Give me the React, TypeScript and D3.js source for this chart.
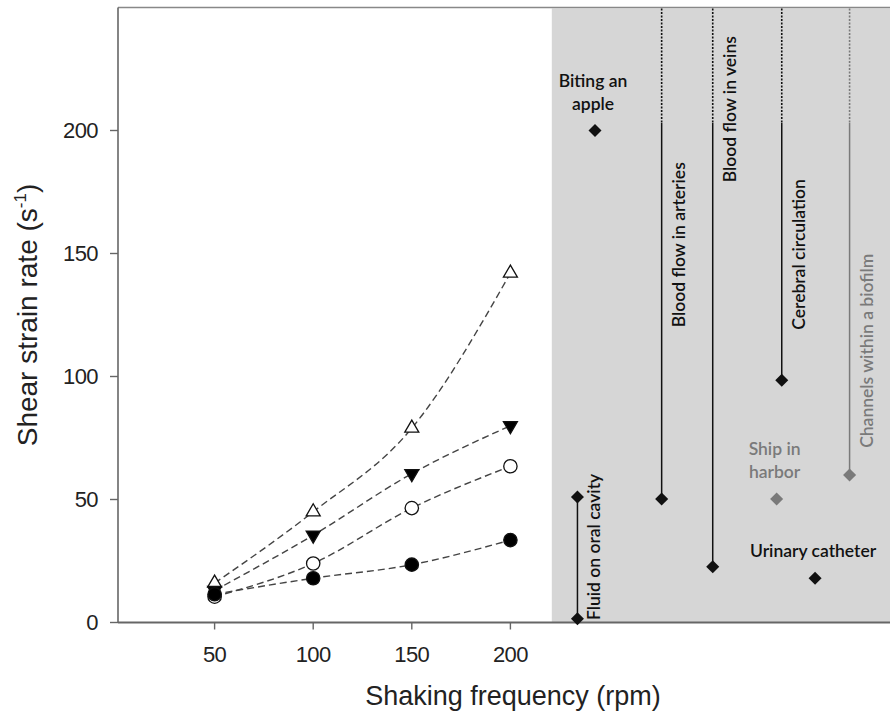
import React from "react";
import * as d3 from "d3";

// ---- Data ----
const frequencies = [50, 100, 150, 200];
const openTriangle = [16, 45, 79, 142];
const filledInvTriangle = [13, 35.5, 60.5, 80];
const openCircle = [10.5, 24, 46.5, 63.5];
const filledCircle = [11.5, 18, 23.5, 33.5];

const xTicks = [50, 100, 150, 200];
const yTicks = [0, 50, 100, 150, 200];

const rangeNames = [
  "Fluid on oral cavity",
  "Blood flow in arteries",
  "Blood flow in veins",
  "Cerebral circulation",
  "Channels within a biofilm",
];
const rangeX = [234, 276.7, 302.6, 337.6, 372];
const rangeLow = [1.5, 50.2, 22.7, 98.5, 60];
const rangeHigh = [51, 203, 203, 203, 203];
const rangeOpenEnded = [false, true, true, true, true];
const rangeLabelStart = [1, 120, 179, 119, 71];
const rangeMuted = [false, false, false, false, true];

const pointNames = [["Biting an", "apple"], ["Ship in", "harbor"], ["Urinary catheter"]];
const pointX = [242.9, 335, 354.5];
const pointY = [200, 50.2, 18];
const pointMuted = [false, true, false];

const shadedFrom = 221;

// ---- Layout ----
const W = 890;
const H = 716;
const xScale = d3.scaleLinear().domain([0, 393]).range([116, 891]);
const yScale = d3.scaleLinear().domain([0, 250]).range([622.5, 7.5]);
const axisLeftX = 118;
const axisColor = "#666";
const arial = "'Liberation Sans', Arial, sans-serif";
const lato = "Lato, 'Open Sans', sans-serif";

const series = [
  { values: openTriangle, shape: "triUp", fill: "#fff" },
  { values: filledInvTriangle, shape: "triDown", fill: "#000" },
  { values: openCircle, shape: "circle", fill: "#fff" },
  { values: filledCircle, shape: "circle", fill: "#000" },
];

const lineGen = d3
  .line<number>()
  .x((_, i) => xScale(frequencies[i]))
  .y((d) => yScale(d))
  .curve(d3.curveMonotoneX);

const triPath = d3.symbol().type(d3.symbolTriangle).size(85)()!;
const circPath = d3.symbol().type(d3.symbolCircle).size(140)()!;
const diamondPath = d3.symbol().type(d3.symbolSquare).size(85)()!;

function Marker({ shape, x, y, fill }: { shape: string; x: number; y: number; fill: string }) {
  const d = shape === "circle" ? circPath : triPath;
  const rot = shape === "triDown" ? 180 : 0;
  return (
    <path
      d={d}
      transform={`translate(${x},${y}) rotate(${rot})`}
      fill={fill}
      stroke="#111"
      strokeWidth={1.3}
    />
  );
}

function Diamond({ x, y, color }: { x: number; y: number; color: string }) {
  return <path d={diamondPath} transform={`translate(${x},${y}) rotate(45)`} fill={color} />;
}

export default function App() {
  const yTop = yScale.range()[1];
  const yBottom = yScale.range()[0];
  return (
    <svg width={W} height={H} style={{ position: "absolute", left: 0, top: 0, background: "#fff" }}>
      {/* shaded region */}
      <rect
        x={xScale(shadedFrom)}
        y={yTop + 1}
        width={W - xScale(shadedFrom)}
        height={yBottom - yTop - 1}
        fill="#d6d6d6"
      />

      {/* frame */}
      <line x1={axisLeftX} x2={W} y1={yTop} y2={yTop} stroke="#888" strokeWidth={1.6} />
      <line x1={axisLeftX} x2={axisLeftX} y1={yTop} y2={yBottom} stroke={axisColor} strokeWidth={1.6} />
      <line x1={axisLeftX} x2={W} y1={yBottom} y2={yBottom} stroke={axisColor} strokeWidth={1.8} />

      {/* y ticks */}
      {yTicks.map((t) => (
        <g key={`yt${t}`}>
          <line x1={axisLeftX - 8} x2={axisLeftX} y1={yScale(t)} y2={yScale(t)} stroke={axisColor} strokeWidth={1.4} />
          <text
            x={axisLeftX - 20}
            y={yScale(t)}
            dy="0.36em"
            textAnchor="end"
            fontFamily={arial}
            fontSize={22}
            letterSpacing={-0.6}
            fill="#222"
          >
            {t}
          </text>
        </g>
      ))}

      {/* x ticks */}
      {xTicks.map((t) => (
        <g key={`xt${t}`}>
          <line x1={xScale(t)} x2={xScale(t)} y1={yBottom} y2={yBottom + 7} stroke={axisColor} strokeWidth={1.4} />
          <text
            x={xScale(t)}
            y={yBottom + 39}
            textAnchor="middle"
            fontFamily={arial}
            fontSize={22}
            letterSpacing={-0.6}
            fill="#222"
          >
            {t}
          </text>
        </g>
      ))}

      {/* axis titles */}
      <text x={513} y={705} textAnchor="middle" fontFamily={arial} fontSize={27} fill="#222">
        Shaking frequency (rpm)
      </text>
      <text
        transform={`translate(37,${(yTop + yBottom) / 2}) rotate(-90)`}
        textAnchor="middle"
        fontFamily={arial}
        fontSize={28}
        fill="#222"
      >
        Shear strain rate (s
        <tspan fontSize={17} dy={-11}>-1</tspan>
        <tspan dy={11}>)</tspan>
      </text>

      {/* series lines */}
      {series.map((s, i) => (
        <path
          key={`l${i}`}
          d={lineGen(s.values)!}
          fill="none"
          stroke="#444"
          strokeWidth={1.4}
          strokeDasharray="7,4"
        />
      ))}
      {/* series markers */}
      {series.map((s, i) =>
        s.values.map((v, j) => (
          <Marker key={`m${i}-${j}`} shape={s.shape} x={xScale(frequencies[j])} y={yScale(v)} fill={s.fill} />
        ))
      )}

      {/* range annotations */}
      {rangeNames.map((name, i) => {
        const color = rangeMuted[i] ? "#7a7a7a" : "#111";
        const x = xScale(rangeX[i]);
        return (
          <g key={`r${i}`}>
            {rangeOpenEnded[i] && (
              <line
                x1={x}
                x2={x}
                y1={yTop + 1}
                y2={yScale(rangeHigh[i])}
                stroke={color}
                strokeWidth={1.6}
                strokeDasharray="2,1.5"
              />
            )}
            <line x1={x} x2={x} y1={yScale(rangeHigh[i])} y2={yScale(rangeLow[i])} stroke={color} strokeWidth={1.5} />
            <Diamond x={x} y={yScale(rangeLow[i])} color={color} />
            {!rangeOpenEnded[i] && <Diamond x={x} y={yScale(rangeHigh[i])} color={color} />}
            <text
              transform={`translate(${x + 23},${yScale(rangeLabelStart[i])}) rotate(-90)`}
              fontFamily={lato}
              fontSize={17.5}
              fontWeight={600}
              fill={color}
            >
              {name}
            </text>
          </g>
        );
      })}

      {/* point annotations */}
      {pointNames.map((lines, i) => {
        const color = pointMuted[i] ? "#7a7a7a" : "#111";
        const x = xScale(pointX[i]);
        const y = yScale(pointY[i]);
        const n = lines.length;
        return (
          <g key={`p${i}`}>
            <Diamond x={x} y={y} color={color} />
            {lines.map((ln, k) => (
              <text
                key={k}
                x={x - 2}
                y={y - 21 - (n - 1 - k) * 23}
                textAnchor="middle"
                fontFamily={lato}
                fontSize={17.5}
                fontWeight={600}
                fill={color}
              >
                {ln}
              </text>
            ))}
          </g>
        );
      })}
    </svg>
  );
}
